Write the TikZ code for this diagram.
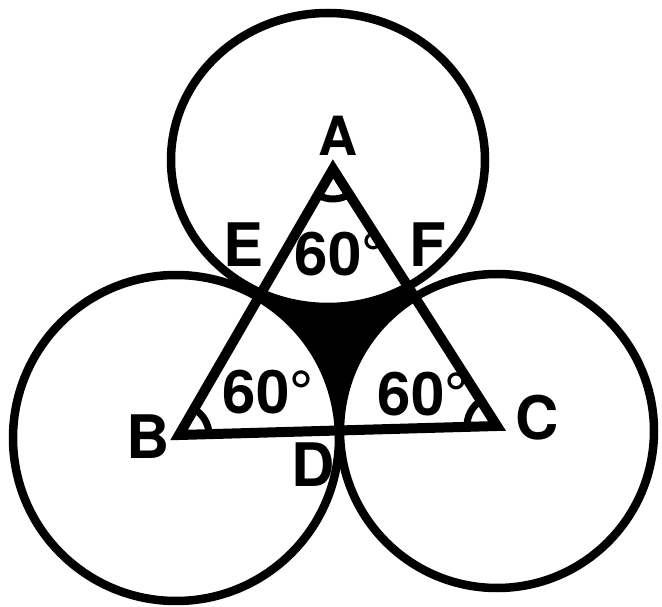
\documentclass[tikz,border=0pt]{standalone}
\usepackage{fontspec}
\setmainfont{TeX Gyre Heros}
\usetikzlibrary{angles}
\begin{document}
\begin{tikzpicture}[x=1pt,y=1pt,
  circ/.style={line width=8.5pt},
  tri/.style={line width=10pt, line join=miter},
  lbl/.style={inner sep=0pt, font=\fontsize{60}{60}\selectfont\bfseries},
  ang/.style={draw, line width=7pt, angle radius=30pt}]
\useasboundingbox (0,0) rectangle (662,606);
\coordinate (A) at (333,437);
\coordinate (B) at (179,171);
\coordinate (C) at (497,180);
\coordinate (OA) at (328,446);
\coordinate (OB) at (176,168);
\coordinate (OC) at (497,175);
% shaded region: inside triangle, outside the three circles
\begin{scope}
  \clip (A) -- (B) -- (C) -- cycle;
  \fill[black] (A) -- (B) -- (C) -- cycle;
  \fill[white] (OA) ellipse [x radius=157, y radius=147];
  \fill[white] (OB) circle [radius=163];
  \fill[white] (OC) circle [radius=157];
\end{scope}
% circles
\draw[circ] (OA) ellipse [x radius=157, y radius=147];
\draw[circ] (OB) circle [radius=163];
\draw[circ] (OC) circle [radius=157];
% triangle
\draw[tri] (A) -- (B) -- (C) -- cycle;
% angle marks
\pic[ang] {angle=B--A--C};
\pic[ang] {angle=C--B--A};
\pic[ang] {angle=A--C--B};
% labels
\node[lbl, font=\fontsize{54}{54}\selectfont\bfseries] (labA) at (338,470) {A};
\node[lbl] (labE) at (244,361) {E};
\node[lbl] (labF) at (428,361) {F};
\node[lbl] (labB) at (148,169) {B};
\node[lbl] (labC) at (537,188) {C};
\node[lbl] (labD) at (313,141) {D};
\node[lbl] (angA) at (340,352) {60°};
\node[lbl] (angB) at (268,214) {60°};
\node[lbl] (angC) at (423,212) {60°};
\end{tikzpicture}
\end{document}
